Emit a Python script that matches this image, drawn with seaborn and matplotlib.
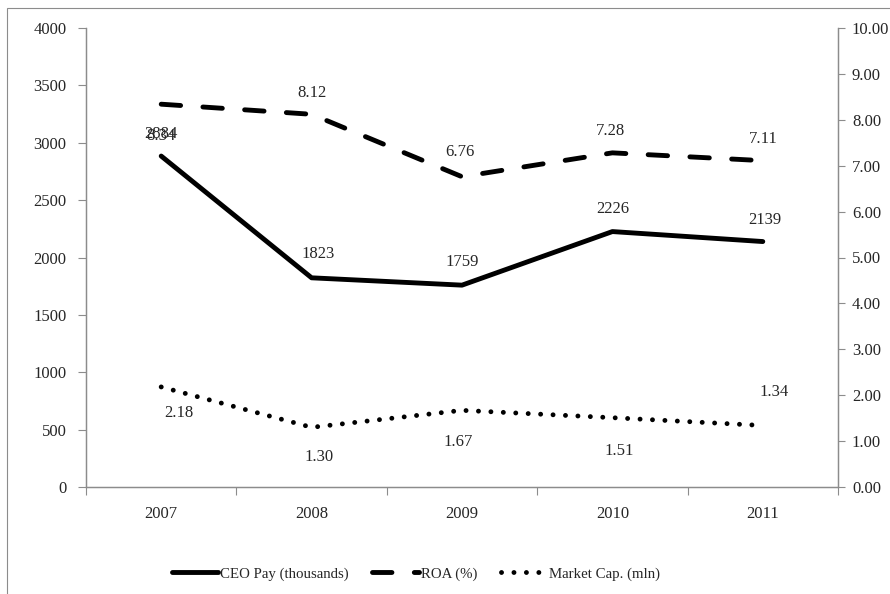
import matplotlib
matplotlib.use("Agg")
import matplotlib.pyplot as plt
from matplotlib.lines import Line2D
from matplotlib.patches import Rectangle
import numpy as np
import pandas as pd
import seaborn as sns

years = ["2007", "2008", "2009", "2010", "2011"]
ceo_pay = [2884, 1823, 1759, 2226, 2139]          # thousands
roa = [8.34, 8.12, 6.76, 7.28, 7.11]              # percent
market_cap = [2.18, 1.30, 1.67, 1.51, 1.34]       # mln

left_ticks = [0, 500, 1000, 1500, 2000, 2500, 3000, 3500, 4000]
right_ticks = [0, 1, 2, 3, 4, 5, 6, 7, 8, 9, 10]

sns.set_theme(style="white")
plt.rcParams["font.family"] = ["Liberation Serif", "DejaVu Serif"]

df = pd.DataFrame({"pos": np.arange(len(years)), "year": years,
                   "ceo": ceo_pay, "roa": roa, "mcap": market_cap})

W, H = 890, 594
fig = plt.figure(figsize=(W / 100, H / 100), dpi=100)
fig.patch.set_facecolor("white")
fig.patches.append(Rectangle((7 / W, -0.01), 1.02, 1 - 8 / H + 0.01,
                             transform=fig.transFigure, fill=False,
                             edgecolor="#8c8c8c", lw=0.8))

ax = fig.add_axes([86 / W, 1 - 487 / H, (838 - 86) / W, (487 - 28) / H])
ax2 = ax.twinx()
LW = 3.5
axis_col = "#8c8c8c"
fs = 12

sns.lineplot(data=df, x="pos", y="ceo", ax=ax, color="black", lw=LW,
             solid_capstyle="round")
sns.lineplot(data=df, x="pos", y="roa", ax=ax2, color="black", lw=LW)
sns.lineplot(data=df, x="pos", y="mcap", ax=ax2, color="black", lw=LW)
ax2.lines[0].set_dashes((4.0, 4.6))
ax2.lines[0].set_dash_capstyle("round")
ax2.lines[1].set_dashes((0.01, 2.55))
ax2.lines[1].set_dash_capstyle("round")

ax.set_xlim(-0.5, len(years) - 0.5)
ax.set_ylim(0, 4000)
ax2.set_ylim(0, 10)
ax.set_xticks(np.arange(len(years)))
ax.set_xticklabels(years)
ax.set_xticks(np.arange(len(years) + 1) - 0.5, minor=True)
ax.tick_params(axis="x", which="major", length=0, pad=14, labelsize=fs)
ax.tick_params(axis="x", which="minor", length=6, width=0.8, color=axis_col,
               direction="out", bottom=True)
ax.set_yticks(left_ticks)
ax.set_yticklabels([str(v) for v in left_ticks])
ax.tick_params(axis="y", length=6, width=0.8, color=axis_col, pad=8,
               labelsize=fs, left=True, direction="out")
ax2.set_yticks(right_ticks)
ax2.set_yticklabels([f"{v:.2f}" for v in right_ticks])
ax2.tick_params(axis="y", length=5, width=0.8, color=axis_col, pad=5,
                labelsize=fs, right=True, direction="out")
for a in (ax, ax2):
    a.set_xlabel("")
    a.set_ylabel("")
    a.grid(False)
    a.spines["top"].set_visible(False)
    for s in ("left", "right", "bottom"):
        a.spines[s].set_color(axis_col)
        a.spines[s].set_linewidth(0.9)

# value labels (offsets in pixels, positive = up); the 2007 pay and ROA
# labels share one spot, as in the original chart
ceo_off = [(0, 22), (7, 24), (0, 23), (0, 23), (2, 22)]
roa_off = [(0, -32), (0, 21), (-2, 25), (-2, 22), (0, 22)]
mcap_off = [(18, -26), (7, -30), (-4, -32), (7, -33), (11, 33)]
for i in range(len(years)):
    ax.annotate(f"{ceo_pay[i]}", (i, ceo_pay[i]), xytext=ceo_off[i],
                textcoords="offset pixels", ha="center", va="center", fontsize=fs)
    ax2.annotate(f"{roa[i]:.2f}", (i, roa[i]), xytext=roa_off[i],
                 textcoords="offset pixels", ha="center", va="center", fontsize=fs)
    ax2.annotate(f"{market_cap[i]:.2f}", (i, market_cap[i]), xytext=mcap_off[i],
                 textcoords="offset pixels", ha="center", va="center", fontsize=fs)

handles = [
    Line2D([], [], color="black", lw=LW, solid_capstyle="round"),
    Line2D([], [], color="black", lw=LW, dashes=(4.0, 4.6), dash_capstyle="round"),
    Line2D([], [], color="black", lw=LW, dashes=(0.01, 2.55), dash_capstyle="round"),
]
fig.legend(handles, ["CEO Pay (thousands)", "ROA (%)", "Market Cap. (mln)"],
           loc="center", bbox_to_anchor=(416 / W, 1 - 574 / H), ncol=3,
           frameon=False, fontsize=10.7, handlelength=3.1, handletextpad=0.15,
           columnspacing=1.6)

fig.savefig("out.png", dpi=100)
